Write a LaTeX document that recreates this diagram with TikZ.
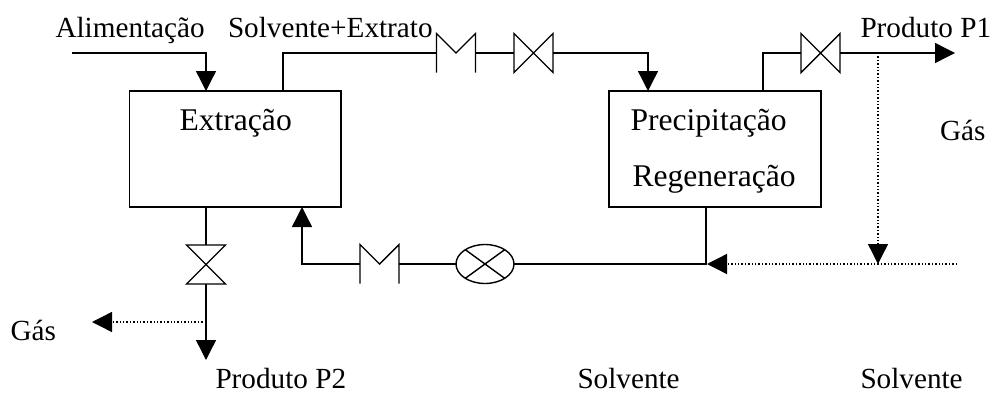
\documentclass[tikz,border=0pt]{standalone}
\usepackage{fontspec}
\setmainfont{Liberation Serif}
\usetikzlibrary{arrows.meta,shapes.geometric}
\tikzset{
  pipe/.style={draw=black,line width=1.4pt},
  flow/.style={pipe,-{Triangle[length=20pt,width=20pt]}},
  gas/.style={line width=1.4pt,dash pattern=on 1.4pt off 2pt},
  gasflow/.style={gas,-{Triangle[length=20pt,width=20pt]}},
  unit/.style={draw=black,line width=1.5pt,rectangle,inner sep=0pt,outer sep=0pt},
  fitting/.style={rectangle,minimum width=39pt,minimum height=39pt,inner sep=0pt,outer sep=0pt},
  pump/.style={ellipse,draw=black,line width=1.4pt,minimum width=58pt,minimum height=39pt,inner sep=0pt,outer sep=0pt},
  txt/.style={anchor=base west,inner sep=0pt,outer sep=0pt,font=\fontsize{29.2}{33}\selectfont},
  boxtxt/.style={txt,font=\fontsize{31.6}{36}\selectfont}
}
\newcommand{\gateH}[1]{\draw[pipe,line join=miter] (#1.north west)--(#1.south east)--(#1.north east)--(#1.south west)--cycle;}
\newcommand{\gateV}[1]{\draw[pipe,line join=miter] (#1.north west)--(#1.north east)--(#1.south west)--(#1.south east)--cycle;}
\newcommand{\checkH}[1]{\draw[pipe] (#1.south west)--(#1.north west)--(#1.center)--(#1.north east)--(#1.south east);}
\begin{document}
\begin{tikzpicture}[x=1pt,y=-1pt]
\useasboundingbox (0,0) rectangle (1001,394);
% units
\node[unit,minimum width=211.5pt,minimum height=116pt] (ext) at (235.25,149) {};
\node[unit,minimum width=212pt,minimum height=116pt] (reg) at (715,149) {};
% fittings
\node[fitting] (chk1) at (456,53) {};
\node[fitting] (val1) at (533.5,53) {};
\node[fitting] (val2) at (820.5,53) {};
\node[fitting] (chk2) at (379.5,264) {};
\node[pump] (pmp) at (485,264) {};
\node[fitting] (val3) at (206,264.5) {};
\gateH{val1}\gateH{val2}\gateV{val3}\checkH{chk1}\checkH{chk2}
\draw[pipe] (pmp.36)--(pmp.216) (pmp.144)--(pmp.324);
% connection points
\coordinate (feed) at (72,53);
\coordinate (extIn) at (206,91);
\coordinate (extOut) at (283,91);
\coordinate (extRet) at (302,207);
\coordinate (extBot) at (206,207);
\coordinate (regIn) at (648,91);
\coordinate (regOut) at (763,91);
\coordinate (regBot) at (706,207);
\coordinate (j1) at (706,264);
\coordinate (p1) at (955,53);
\coordinate (p2) at (206,360);
\coordinate (g1) at (878,53);
\coordinate (g2) at (878,264);
\coordinate (g3) at (206,322);
\coordinate (g4) at (92,322);
\coordinate (sol) at (957,264);
\coordinate (j2) at (707,264);
% solid connectors
\draw[flow] (feed) -| (extIn);
\draw[pipe] (extOut) |- (chk1.west);
\draw[pipe] (chk1.east) -- (val1.west);
\draw[flow] (val1.east) -| (regIn);
\draw[pipe] (regOut) |- (val2.west);
\draw[flow] (val2.east) -- (p1);
\draw[pipe] (regBot) -- (j1) -- (pmp.east);
\draw[pipe] (pmp.west) -- (chk2.east);
\draw[flow] (chk2.west) -| (extRet);
\draw[pipe] (extBot) -- (val3.north);
\draw[flow] (val3.south) -- (p2);
% dotted connectors
\draw[gasflow] (g1) -- (g2);
\draw[gasflow] (sol) -- (j2);
\draw[gasflow] (g3) -- (g4);
% labels
\node[txt] (tAlim) at (55.5,37) {Alimentação};
\node[txt] (tSolv) at (228,37) {Solvente+Extrato};
\node[txt] (tP1) at (860.5,37) {Produto P1};
\node[txt] (tGas1) at (940,140) {Gás};
\node[boxtxt] (tExt) at (179.5,130) {Extração};
\node[boxtxt] (tPre) at (630.5,130) {Precipitação};
\node[boxtxt] (tReg) at (632.5,186) {Regeneração};
\node[txt] (tGas2) at (10.5,340) {Gás};
\node[txt] (tP2) at (215.5,388) {Produto P2};
\node[txt] (tS1) at (577.5,388) {Solvente};
\node[txt] (tS2) at (860.5,388) {Solvente};
\end{tikzpicture}
\end{document}
